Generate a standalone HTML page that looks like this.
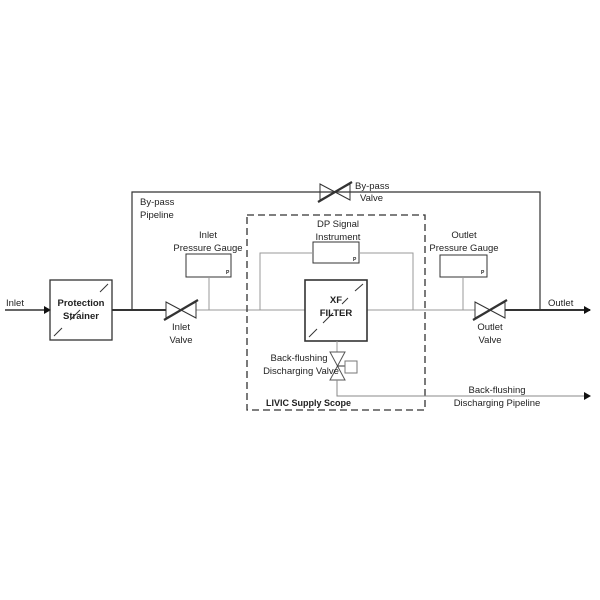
<!DOCTYPE html><html><head><style>body{margin:0;background:#fff}svg{display:block}text{font-family:"Liberation Sans",sans-serif;font-size:9.5px;fill:#222}</style></head><body>
<svg width="600" height="600" viewBox="0 0 600 600">
<defs><marker id="a" markerUnits="userSpaceOnUse" markerWidth="7" markerHeight="8" refX="6" refY="4" orient="auto"><path d="M0,0L7,4L0,8z" fill="#111"/></marker></defs>
<g stroke="#333" fill="none">
<line x1="5" y1="310" x2="50" y2="310" stroke-width="1.5" marker-end="url(#a)"/>
<rect x="50" y="280" width="62" height="60" stroke-width="1.3"/>
<line x1="54" y1="336" x2="62" y2="328"/><line x1="70" y1="320" x2="80" y2="310"/><line x1="100" y1="292" x2="108" y2="284"/>
<line x1="112" y1="310" x2="166" y2="310" stroke-width="2"/>
<polyline points="132,310 132,192 540,192 540,310" stroke-width="1.2"/>
<line x1="505" y1="310" x2="590" y2="310" stroke-width="2" marker-end="url(#a)"/>
<line x1="196" y1="310" x2="475" y2="310" stroke="#999"/>
<path d="M166,302L196,318L196,302L166,318z"/><line x1="164" y1="320" x2="198" y2="300" stroke-width="2.2"/>
<path d="M320,184L350,200L350,184L320,200z"/><line x1="318" y1="202" x2="352" y2="182" stroke-width="2.2"/>
<path d="M475,302L505,318L505,302L475,318z"/><line x1="473" y1="320" x2="507" y2="300" stroke-width="2.2"/>
<rect x="186" y="254" width="45" height="23"/><line x1="209" y1="277" x2="209" y2="310" stroke="#999"/>
<rect x="440" y="255" width="47" height="22"/><line x1="463" y1="277" x2="463" y2="310" stroke="#999"/>
<rect x="313" y="242" width="46" height="21"/>
<polyline points="260,310 260,253 313,253" stroke="#999"/><polyline points="359,253 413,253 413,310" stroke="#999"/>
<rect x="247" y="215" width="178" height="195" stroke-dasharray="7,4" stroke-width="1.3"/>
<rect x="305" y="280" width="62" height="61" fill="#fff" stroke-width="1.6"/>
<line x1="309" y1="337" x2="317" y2="329"/><line x1="323" y1="323" x2="333" y2="313"/><line x1="342" y1="304" x2="348" y2="298"/><line x1="355" y1="291" x2="363" y2="284"/>
<line x1="337" y1="341" x2="337" y2="352" stroke="#999"/>
<path d="M330,352L345,352L330,380L345,380z" stroke="#555"/>
<line x1="337" y1="366" x2="345" y2="366"/>
<rect x="345" y="361" width="12" height="12" stroke="#777"/>
<polyline points="337,380 337,396 590,396" stroke="#888" marker-end="url(#a)"/>
</g>
<text x="6" y="306">Inlet</text>
<text x="81" y="306" text-anchor="middle" font-weight="bold">Protection</text><text x="81" y="319" text-anchor="middle" font-weight="bold">Strainer</text>
<text x="140" y="205">By-pass</text><text x="140" y="218">Pipeline</text>
<text x="208" y="238" text-anchor="middle">Inlet</text><text x="208" y="251" text-anchor="middle">Pressure Gauge</text>
<text x="181" y="330" text-anchor="middle">Inlet</text><text x="181" y="343" text-anchor="middle">Valve</text>
<text x="355" y="189">By-pass</text><text x="360" y="201">Valve</text>
<text x="338" y="227" text-anchor="middle">DP Signal</text><text x="338" y="240" text-anchor="middle">Instrument</text>
<text x="336" y="303" text-anchor="middle" font-weight="bold">XF</text><text x="336" y="316" text-anchor="middle" font-weight="bold">FILTER</text>
<text x="299" y="361" text-anchor="middle">Back-flushing</text><text x="301" y="374" text-anchor="middle">Discharging Valve</text>
<text x="266" y="406" font-weight="bold" style="font-size:9px">LIVIC Supply Scope</text>
<text x="464" y="238" text-anchor="middle">Outlet</text><text x="464" y="251" text-anchor="middle">Pressure Gauge</text>
<text x="490" y="330" text-anchor="middle">Outlet</text><text x="490" y="343" text-anchor="middle">Valve</text>
<text x="548" y="306">Outlet</text>
<text x="497" y="393" text-anchor="middle">Back-flushing</text><text x="497" y="406" text-anchor="middle">Discharging Pipeline</text>
<text x="226" y="274" style="font-size:5px;font-weight:bold">P</text><text x="481" y="274" style="font-size:5px;font-weight:bold">P</text><text x="353" y="261" style="font-size:5px;font-weight:bold">P</text>
</svg></body></html>
